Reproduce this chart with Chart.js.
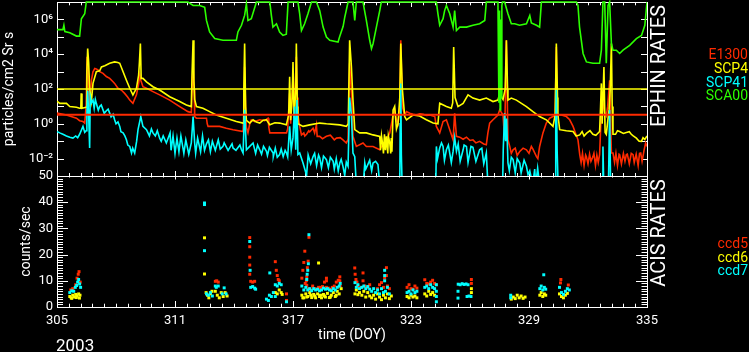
<!DOCTYPE html>
<html><head><meta charset="utf-8">
<script src="https://cdn.jsdelivr.net/npm/chart.js@4.4.1/dist/chart.umd.min.js"></script>
<style>
html,body{margin:0;padding:0;background:#000;}
#wrap{position:relative;width:749px;height:352px;overflow:hidden;background:#000;}
#wrap canvas{position:absolute;left:0;top:0;}
.lbl{position:absolute;font-family:Roboto,"DejaVu Sans",sans-serif;white-space:nowrap;font-size:14px;line-height:14px;}
.rot{position:absolute;font-family:Roboto,"DejaVu Sans",sans-serif;white-space:nowrap;color:#fff;font-size:20px;line-height:20px;transform:translate(-50%,-50%) rotate(-90deg);}
</style></head><body>
<div id="wrap">
<canvas id="topc" width="749" height="352"></canvas>
<canvas id="botc" width="749" height="352"></canvas>
<div class="rot" style="left:657.5px;top:65.5px">EPHIN RATES</div>
<div class="rot" style="left:657.5px;top:233px">ACIS RATES</div>
<div class="lbl" style="right:1px;top:46.5px;color:#ff2a00">E1300</div>
<div class="lbl" style="right:1px;top:60.5px;color:#ffff00">SCP4</div>
<div class="lbl" style="right:1px;top:74.9px;color:#00ffff">SCP41</div>
<div class="lbl" style="right:1px;top:88.2px;color:#2cff00">SCA00</div>
<div class="lbl" style="right:1px;top:235.5px;color:#ff2a00">ccd5</div>
<div class="lbl" style="right:1px;top:249.9px;color:#ffff00">ccd6</div>
<div class="lbl" style="right:1px;top:263.2px;color:#00ffff">ccd7</div>
<div class="lbl" style="left:56px;top:336.7px;font-size:17px;line-height:17px;color:#fff">2003</div>
</div>
<script>
// ---------- axis / tick values ----------
const DOY_MIN = 305, DOY_MAX = 335;
const xTickLabels = [305, 311, 317, 323, 329, 335];
const logLabelExps = [-2, 0, 2, 4, 6];
const countTickLabels = [0, 10, 20, 30, 40, 50];
const SCP4_LIMIT = 100;
const E1300_LIMIT = 3.3;

// ---------- EPHIN rates (DOY, particles/cm2 Sr s) ----------
const sca00 = [[305.00,2.6e5],[305.30,2.6e5],[305.35,4.6e5],[305.40,2.0e5],[305.65,1.7e5],[305.99,1.1e5],[306.15,1.1e5],[306.24,1.1e6],[306.41,2.1e6],[306.49,1e7],
[311.66,1e7],[311.92,6.3e6],[312.26,6.3e6],[312.51,5.0e6],[312.60,8.7e5],[312.76,1.9e5],[313.02,7.9e4],[313.44,6.3e4],[314.12,6.3e4],[314.20,1.9e5],[314.38,4.6e5],[314.54,1.7e6],[314.63,7.9e6],[314.71,8.7e5],[314.88,1.1e6],[315.14,1e7],
[315.82,1e7],[315.90,1.7e6],[315.98,3.6e5],[316.16,5.6e5],[316.32,1.9e5],[316.49,1.2e5],[316.66,1.4e5],[316.75,1e7],[317.25,1e7],[317.34,2.1e6],[317.43,2.3e5],[317.59,5.6e5],[317.76,2.1e6],[317.94,1e7],
[318.19,1e7],[318.36,3.2e6],[318.53,3.6e5],[318.70,9.8e4],[318.87,6.3e4],[319.29,5.0e4],[319.37,1e5],[319.55,4e5],[319.63,1.3e6],[319.80,1e7],
[320.05,1e7],[320.14,8.7e5],[320.22,1e7],[320.56,1e7],[320.73,8.7e5],[320.90,6.3e4],[320.99,2.1e4],[321.07,4e4],[321.24,3.6e5],[321.41,3.2e6],[321.49,1e7],
[324.29,1e7],[324.37,2.1e6],[324.46,4.6e5],[324.63,1.1e6],[324.71,3.2e6],[324.80,6.3e6],[324.97,2.1e6],[325.14,3.6e5],[325.22,3.2e6],[325.31,2.3e5],[325.48,3.6e5],[325.82,3.6e5],[326.15,4.6e5],[326.49,5.6e5],[326.75,8.7e5],[326.83,1e7],
[327.42,1e7],[327.47,16],[327.50,3.2e6],[327.53,6.3],[327.56,1e6],[327.59,32],[327.62,6.3e6],[327.65,1e7],[327.76,1e7],[327.93,2.1e6],[328.10,5.6e5],[328.27,5.6e5],[328.52,4.6e5],[328.87,5.6e5],[329.04,1.7e6],[329.12,6.3e5],[329.38,4.6e5],[329.54,3.6e5],[329.63,1e7],
[331.41,1e7],[331.49,6.3e6],[331.57,3.6e5],[331.75,1.1e4],[331.92,3.6e3],[332.25,3.0e3],[332.59,3.0e3],[332.68,1.7e4],[332.76,1e7],[332.85,1e7],[332.93,3.0e3],[333.02,6.3e6],[333.10,1e7],[333.19,4.1e4],[333.27,1.7e4],[333.44,1.7e4],[333.61,1.1e4],[333.78,1.7e4],[334.12,3.2e4],[334.46,7.9e4],[334.72,1.2e5],[334.89,4.6e5],[335.00,1e7]];

const e1300 = [[305.00,4.1],[305.48,3.2],[305.99,2.1],[306.15,1.5],[306.32,1.35],[306.41,1.1],[306.48,10],[306.53,7100],[306.58,3200],[306.63,16],[306.66,9.8],[306.75,320],[306.83,980],[306.92,1500],[307.00,1400],[307.08,1260],[307.17,1000],[307.34,790],[307.51,520],[307.68,410],[307.85,260],[307.93,210],[308.10,110],[308.27,87],[308.44,56],[308.59,35],[308.70,23],[308.86,15],[309.04,46],[309.15,200],[309.21,630],[309.26,320],[309.37,135],[309.55,110],[309.88,71],[310.22,46],[310.73,23],[311.24,9.8],[311.66,5.0],[311.83,4.5],[311.87,100],[311.92,3000],[311.97,100],[312.00,2.6],[312.09,2.1],[312.60,2.1],[312.64,1.0],[312.68,0.71],[313.27,0.71],[313.61,0.56],[313.95,0.46],[314.46,0.36],[314.51,10],[314.54,1900],[314.60,3.2],[314.63,0.63],[314.71,0.30],[314.80,1.0],[314.88,1.7],[315.05,1.35],[315.31,1.7],[315.56,1.5],[315.73,2.1],[315.77,0.63],[315.82,0.30],[316.16,0.30],[316.67,0.30],[316.73,0.5],[316.83,56],[316.88,1.0],[317.00,500],[317.06,3.2],[317.17,7100],[317.22,32],[317.25,3.2],[317.34,0.71],[317.43,0.23],[317.55,0.3],[317.60,0.2],[317.69,0.25],[317.80,0.4],[317.85,0.35],[318.02,0.56],[318.10,0.3],[318.19,0.87],[318.23,0.19],[318.36,0.19],[318.50,0.14],[318.70,0.19],[318.90,0.22],[319.10,0.12],[319.21,0.15],[319.40,0.16],[319.54,0.12],[319.71,0.079],[319.80,0.126],[319.88,3000],[319.97,56],[320.05,0.19],[320.22,0.050],[320.56,0.079],[320.73,0.050],[321.07,0.050],[321.41,0.032],[321.56,0.063],[321.75,0.12],[321.92,0.30],[322.09,3.2],[322.17,6.3],[322.26,1.6],[322.34,1.0],[322.43,10],[322.48,63000],[322.56,10],[322.68,3.2],[322.77,5.0],[322.94,4.1],[323.10,3.5],[323.28,3.2],[323.45,3.8],[323.61,3.5],[323.80,3.0],[323.95,3.2],[324.21,2.6],[324.29,0.71],[324.46,0.30],[324.63,1.35],[324.80,1.7],[324.97,0.46],[325.14,0.12],[325.22,4.0],[325.31,0.19],[325.48,0.17],[325.65,0.13],[325.82,0.17],[326.00,0.11],[326.15,0.12],[326.30,0.08],[326.49,0.098],[326.70,0.07],[326.83,0.063],[326.91,0.30],[327.00,1.1],[327.17,1.7],[327.42,3.2],[327.51,6.3],[327.68,3.2],[327.76,0.12],[327.85,63000],[327.93,0.12],[328.02,0.050],[328.10,0.02],[328.19,0.032],[328.30,0.04],[328.40,0.015],[328.53,0.026],[328.70,0.04],[328.87,0.032],[329.00,0.02],[329.12,0.050],[329.20,0.035],[329.38,0.013],[329.45,0.01],[329.54,0.050],[329.71,0.30],[329.88,1.1],[330.05,2.1],[330.22,2.6],[330.33,3.2],[330.39,26000],[330.43,4.0],[330.47,3.2],[330.65,3.2],[330.90,2.6],[331.07,1.7],[331.24,0.71],[331.49,0.12],[331.58,0.017],[331.65,0.006],[331.72,0.02],[331.80,0.004],[331.88,0.016],[331.92,0.0126],[332.00,0.005],[332.08,0.018],[332.15,0.007],[332.25,0.013],[332.30,0.02],[332.38,0.004],[332.45,0.016],[332.52,0.006],[332.59,0.017],[332.68,6.3],[332.76,15],[332.85,4.0],[332.93,2.8],[333.00,10],[333.10,320],[333.19,0.021],[333.27,0.021],[333.35,0.006],[333.42,0.02],[333.50,0.004],[333.58,0.018],[333.61,0.017],[333.70,0.005],[333.80,0.02],[333.88,0.007],[333.95,0.017],[334.00,0.018],[334.10,0.005],[334.20,0.02],[334.29,0.017],[334.35,0.006],[334.45,0.018],[334.55,0.004],[334.62,0.02],[334.68,0.021],[334.75,0.007],[334.85,0.03],[334.93,0.079],[335.00,0.05]];

const scp4 = [[305.00,20],[305.14,15],[305.48,15],[305.65,9.8],[305.99,8.9],[306.15,7.9],[306.21,7.9],[306.23,56],[306.27,7.9],[306.48,8.9],[306.52,1000],[306.56,21000],[306.61,3200],[306.66,100],[306.75,20],[306.83,210],[307.00,980],[307.17,1100],[307.26,1860],[307.43,2200],[307.68,3000],[307.93,3600],[308.09,3300],[308.19,3000],[308.36,980],[308.53,320],[308.70,110],[308.86,46],[309.04,110],[309.15,630],[309.19,3200],[309.24,41000],[309.28,410],[309.37,410],[309.55,260],[309.88,135],[310.22,87],[310.73,36],[311.24,19],[311.58,12],[311.83,9.8],[311.87,1000],[311.92,63000],[311.96,320],[312.00,25],[312.09,9.8],[312.42,7.9],[312.76,5.0],[313.10,3.2],[313.61,2.1],[314.12,1.35],[314.46,1.1],[314.50,100],[314.54,41000],[314.59,10],[314.63,1.6],[314.80,1.1],[314.97,1.7],[315.14,1.26],[315.31,1.1],[315.48,1.6],[315.65,1.7],[315.82,0.87],[316.08,1.15],[316.32,1.1],[316.66,0.87],[316.78,3.2],[316.83,500],[316.88,1.6],[316.96,32],[317.00,3600],[317.06,2.0],[317.14,100],[317.17,41000],[317.22,10],[317.25,1.0],[317.51,0.71],[317.85,0.87],[318.36,1.1],[318.70,1.0],[319.38,0.87],[319.71,0.71],[319.81,1.0],[319.88,63000],[319.97,1860],[320.05,23],[320.14,0.46],[320.39,0.30],[320.73,0.30],[321.07,0.23],[321.41,0.19],[321.45,0.03],[321.50,0.2],[321.56,0.063],[321.60,0.02],[321.65,0.25],[321.70,0.03],[321.75,0.19],[321.82,0.02],[321.85,0.2],[321.92,0.079],[321.97,0.02],[322.00,0.15],[322.03,0.025],[322.09,6.3],[322.17,10],[322.26,0.5],[322.34,1.0],[322.43,32],[322.48,41000],[322.56,100],[322.68,2.6],[322.77,1.7],[323.10,3.2],[323.44,2.8],[323.78,1.7],[324.12,1.1],[324.37,1.0],[324.46,15],[324.80,9.8],[325.05,7.9],[325.12,16],[325.17,26000],[325.24,32],[325.39,9.8],[325.65,15],[325.90,46],[326.15,30],[326.49,23],[326.83,30],[327.17,19],[327.42,23],[327.51,56],[327.68,25],[327.79,100],[327.85,63000],[327.91,100],[327.93,23],[328.10,30],[328.36,23],[328.87,9.8],[329.20,5.0],[329.54,2.6],[329.88,1.7],[330.22,0.71],[330.33,3.2],[330.39,41000],[330.45,32],[330.47,3.2],[330.56,0.46],[330.90,0.4],[331.24,0.36],[331.40,0.2],[331.58,0.23],[331.70,0.36],[331.80,0.2],[331.92,0.28],[332.10,0.4],[332.25,0.25],[332.40,0.22],[332.59,0.36],[332.64,10],[332.68,210],[332.72,1.0],[332.81,1860],[332.87,0.32],[332.93,0.25],[333.07,6.3],[333.13,100],[333.19,41000],[333.23,10],[333.27,0.25],[333.40,0.25],[333.50,0.4],[333.61,0.36],[333.80,0.28],[333.95,0.32],[334.10,0.35],[334.20,0.25],[334.30,0.2],[334.46,0.15],[334.60,0.1],[334.72,0.098],[334.80,0.16],[334.89,0.126],[335.00,0.2]];

const scp41 = [[305.00,0.36],[305.14,0.30],[305.30,0.25],[305.48,0.20],[305.65,0.17],[305.81,0.15],[305.95,0.2],[306.05,0.16],[306.15,0.25],[306.32,0.71],[306.41,0.32],[306.48,0.4],[306.52,3.2],[306.56,80],[306.61,3.2],[306.66,0.041],[306.69,36],[306.75,16],[306.83,23],[306.89,7.9],[306.95,25],[307.00,15],[307.07,7.9],[307.10,6],[307.17,9.8],[307.25,12],[307.34,6.3],[307.40,4],[307.51,5.6],[307.60,7],[307.68,4.1],[307.75,2.5],[307.85,3.5],[307.93,1.7],[308.00,1.0],[308.10,1.3],[308.19,0.71],[308.25,0.35],[308.36,0.30],[308.45,0.2],[308.53,0.12],[308.60,0.06],[308.70,0.050],[308.79,0.021],[308.85,0.04],[308.95,0.021],[309.05,0.1],[309.12,0.46],[309.26,2.6],[309.37,0.71],[309.55,0.46],[309.70,0.2],[309.80,0.5],[309.88,0.30],[310.00,0.2],[310.10,0.4],[310.22,0.15],[310.30,0.1],[310.40,0.2],[310.56,0.079],[310.75,0.3],[310.80,0.03],[310.90,0.2],[311.00,0.02],[311.10,0.15],[311.20,0.025],[311.30,0.2],[311.45,0.02],[311.55,0.12],[311.70,0.018],[311.83,0.079],[311.92,2.6],[312.00,0.079],[312.05,0.02],[312.15,0.15],[312.30,0.025],[312.40,0.2],[312.50,0.03],[312.60,0.071],[312.70,0.12],[312.80,0.025],[312.90,0.1],[313.05,0.03],[313.20,0.12],[313.30,0.035],[313.44,0.050],[313.50,0.08],[313.70,0.03],[313.90,0.07],[313.95,0.041],[314.10,0.03],[314.30,0.06],[314.38,0.032],[314.46,0.021],[314.54,6.3],[314.63,0.032],[314.80,0.050],[314.97,0.079],[315.10,0.02],[315.20,0.06],[315.31,0.032],[315.40,0.018],[315.50,0.05],[315.65,0.026],[315.70,0.015],[315.80,0.045],[315.99,0.021],[316.00,0.013],[316.10,0.04],[316.20,0.012],[316.32,0.017],[316.40,0.035],[316.50,0.013],[316.60,0.03],[316.67,0.021],[316.73,0.0126],[316.83,0.71],[316.91,0.032],[317.00,0.16],[317.08,9.8],[317.14,0.032],[317.20,23],[317.25,0.017],[317.34,0.021],[317.51,0.0056],[317.69,0.0011],[317.77,0.016],[317.90,0.005],[318.02,0.013],[318.10,0.02],[318.20,0.004],[318.30,0.016],[318.36,0.011],[318.45,0.003],[318.55,0.014],[318.70,0.0087],[318.80,0.003],[318.90,0.012],[319.04,0.0071],[319.10,0.0025],[319.20,0.01],[319.30,0.002],[319.38,0.0056],[319.45,0.009],[319.54,0.0036],[319.63,0.0011],[319.71,0.0063],[319.80,0.0036],[319.88,32],[319.97,3.2],[320.05,0.021],[320.14,0.013],[320.22,0.0003],[320.57,0.0003],[320.65,0.0056],[320.70,0.0025],[320.82,0.005],[320.90,0.008],[321.00,0.002],[321.07,0.0056],[321.20,0.007],[321.32,0.0046],[321.41,0.0003],[322.43,0.0003],[322.45,1.0],[322.48,210],[322.51,0.016],[322.55,0.0003],[324.26,0.0003],[324.29,0.050],[324.35,0.01],[324.46,0.041],[324.55,0.08],[324.63,0.050],[324.70,0.008],[324.80,0.032],[324.90,0.06],[325.05,0.006],[325.14,0.026],[325.22,0.16],[325.31,0.026],[325.40,0.07],[325.50,0.007],[325.65,0.032],[325.70,0.06],[325.82,0.050],[325.90,0.006],[326.05,0.05],[326.15,0.045],[326.30,0.007],[326.49,0.032],[326.60,0.04],[326.70,0.005],[326.83,0.021],[326.91,0.0003],[327.66,0.0003],[327.69,0.032],[327.76,4.1],[327.81,0.1],[327.86,2.0],[327.93,0.0056],[328.00,0.002],[328.10,0.012],[328.19,0.0087],[328.30,0.0015],[328.40,0.01],[328.53,0.0056],[328.60,0.0015],[328.75,0.008],[328.87,0.0036],[328.95,0.0012],[329.04,0.002],[329.19,0.0003],[329.29,0.0025],[329.34,0.0003],[329.44,0.0028],[329.54,0.0003],[330.33,0.0003],[330.36,1.0],[330.39,87],[330.43,0.032],[330.48,0.0003],[332.72,0.0003],[332.76,0.05],[332.80,0.0003],[333.04,0.0003],[333.10,6.3],[333.15,0.0003],[335.00,0.0003]];

// ---------- ACIS rates (DOY, counts/sec) ----------
const ccd5 = [[305.70,6.5],[305.80,7],[305.95,8.5],[306.02,11],[306.08,12.5],[306.12,13.5],[306.18,9.5],
[313.05,9.8],[313.12,10],[313.20,9.5],
[314.80,26.5],[314.80,23],[314.80,19],[314.80,16],[314.80,12.5],[314.85,9.8],[314.95,9.5],[315.05,9.8],
[316.10,17.3],[316.15,14],[316.20,12],[316.25,10.5],[316.30,10],[316.67,2.5],[316.67,5],
[317.45,11],[317.50,14],[317.55,17],[317.60,21.3],[317.62,9],[317.68,10],[317.70,11.5],[317.73,15],[317.77,17.5],[317.81,26.6],[317.70,8.3],[317.80,7],[317.90,6.5],[318.00,8],[318.10,7],[318.20,6.8],[318.30,7.5],[318.40,7.5],[318.50,7.8],[318.60,9.5],[318.70,11],[318.70,10],[318.70,7.5],[318.80,7.2],[318.90,6.8],[319.00,7.5],[319.10,8],[319.20,9.5],[319.30,10.2],[319.38,11.5],[319.38,10],[319.40,8],
[320.14,14.9],[320.16,12.5],[320.20,10.5],[320.25,9.5],[320.30,8],[320.45,7.5],[320.56,13],[320.56,10],[320.65,8],[320.80,7.5],[320.90,8.5],
[321.30,7],[321.40,8.5],[321.50,9.3],[321.60,7.5],[321.66,11],[321.75,15],[321.75,12],[321.80,8],[321.90,7],
[322.80,7.5],[322.90,8.5],[323.00,7],[323.10,6.8],[323.20,8],[323.30,7.2],
[323.70,10.4],[323.80,9],[323.90,8.8],[324.00,9.5],[324.10,10.2],[324.20,9],[324.28,8.5],
[326.07,9],[326.07,10.5],[330.60,9.2],[330.62,10.5],[331.00,8.4]];

const ccd6 = [[305.65,4],[305.72,3.5],[305.80,4.5],[305.88,3.8],[305.95,4.8],[306.02,4.2],[306.10,5],[306.17,4.5],[305.75,3.3],[305.98,3.6],[306.14,3.4],
[312.50,26.4],[312.50,12.6],[312.58,5.5],[312.65,4.5],[312.72,3.5],[312.80,5],[312.88,6],
[313.05,6],[313.15,4.5],[313.25,3.5],[313.35,5.5],[313.45,4],[313.55,5.5],[313.65,4.2],
[316.10,5.5],[316.20,5],[316.30,6.5],[316.40,5.5],[316.45,4.8],
[317.45,4.5],[317.55,3.5],[317.65,5],[317.75,4],[317.85,5.5],[317.95,3.6],[318.05,4.8],[318.15,3.5],[318.25,5],[318.30,16.8],[318.35,4],[318.45,3.5],[318.55,4.8],[318.65,3.8],[318.75,5.2],[318.85,3.6],[318.95,4.5],[319.05,5.5],[319.15,4],[319.25,6],[319.35,5],[319.45,7],
[317.50,3.5],[317.70,3.8],[317.90,4.5],[318.10,4.2],[318.40,4.5],[318.60,4.2],[318.90,3.8],[319.20,4.5],
[320.15,5],[320.22,6.5],[320.30,4.7],[320.38,5.5],[320.50,4.5],[320.60,6],[320.70,3.8],[320.80,5.5],[320.90,4.2],[321.00,3.5],[321.10,4.5],[321.20,3],[321.30,5],[321.40,3.8],[321.50,2.8],[321.60,4.5],[321.70,3.5],[321.80,5],[321.90,3.2],[322.00,4.2],
[322.80,4],[322.90,3.5],[323.00,4.5],[323.10,3.8],[323.20,4.2],[323.30,3.5],
[323.70,5],[323.80,4.2],[323.90,6],[324.00,4.8],[324.10,5.5],[324.20,4.5],
[326.07,7],[326.07,5.5],
[328.10,3],[328.20,3.8],[328.30,3.2],[328.40,4.5],[328.50,3.5],[328.60,4.2],[328.70,3.3],[328.80,3.8],
[329.55,4.5],[329.62,5.5],[329.70,4],[329.78,5],[329.85,4.5],
[330.55,5],[330.65,4],[330.75,3.5],[330.85,4.5],[330.95,5.2]];

const ccd7 = [[305.65,5.5],[305.75,6.2],[305.85,6],[305.93,7.5],[306.00,8.2],[306.05,9.5],[306.10,10.5],[306.15,8.8],[306.20,7.5],
[312.50,39.7],[312.50,39.1],[312.50,21.5],[312.60,5],[312.70,4.5],[312.80,5.5],[312.90,4.2],
[313.05,8],[313.10,7.5],[313.20,8],[313.40,5],[313.50,7.3],[313.60,5],
[314.80,25],[314.82,14],[314.85,7.5],[314.95,7.8],[315.05,7.2],[315.10,6.8],
[315.65,3],[315.75,2.5],[315.80,4.5],[315.82,13],[315.90,4],[316.00,5.5],[316.10,4],
[316.10,8.5],[316.20,8],[316.30,9],[316.40,8.5],[316.67,2],
[317.45,8],[317.55,6.5],[317.65,7.5],[317.70,10.5],[317.72,12.5],[317.75,14],[317.78,16.5],[317.81,27.6],[317.75,6.5],[317.85,7],[317.95,6.2],[318.05,7],[318.15,6.5],[318.25,6.8],[318.35,6.2],[318.45,6.5],[318.55,7.2],[318.65,6.8],[318.75,7],[318.85,6.5],[318.95,6.2],[319.05,7],[319.15,6.5],[319.25,7.5],[319.35,8],[319.40,9],
[320.15,9.3],[320.22,7.5],[320.30,8.5],[320.38,7],[320.50,7.5],[320.60,8],[320.70,7],[320.80,7.8],[320.90,6.8],[321.00,6],[321.10,7],[321.20,5.5],[321.30,6.5],[321.40,5],[321.50,7],[321.60,5.5],[321.66,10],[321.66,12],[321.66,14],[321.70,6],[321.80,7.5],[321.90,5],
[322.80,5.5],[322.90,6],[323.00,5],[323.10,6.5],[323.20,5.5],[323.30,6],
[323.70,7.5],[323.80,8],[323.90,7],[324.00,8.5],[324.10,7.5],[324.20,7],[324.29,8.5],[324.29,6],[324.29,4],[324.29,2],
[325.39,6],[325.39,3.4],[325.40,8.7],[325.50,8.5],[325.60,8.9],[325.70,8.6],[325.80,8.8],[325.90,8.5],
[325.85,4],[325.95,4.2],[326.05,4],[328.07,3.5],[328.07,4.5],
[329.55,7],[329.62,8],[329.70,6.5],[329.75,12.3],[329.78,7.5],[329.85,6.8],
[330.55,7.5],[330.65,5.5],[330.75,4.8],[330.85,6],[330.95,7],[331.05,6.5]];

// ---------- styling ----------
const RED = '#ff2a00', YEL = '#ffff00', CYN = '#00ffff', GRN = '#2cff00', WHITE = '#ffffff';
const FONT = 'Roboto, "DejaVu Sans", sans-serif';
const SUP = {'-':'\u207B','0':'\u2070','1':'\u00B9','2':'\u00B2','3':'\u00B3','4':'\u2074','5':'\u2075','6':'\u2076','7':'\u2077','8':'\u2078','9':'\u2079'};
const sup = n => String(n).split('').map(c => SUP[c]).join('');
const pts = arr => arr.map(p => ({x: p[0], y: p[1]})).sort((a, b) => a.x - b.x);
const flat = arr => arr.map(p => ({x: p[0], y: p[1]}));

const inwardTicks = {
  id: 'inwardTicks',
  beforeDatasetsDraw(chart, args, o) {
    const {ctx, chartArea: a} = chart;
    const xs = chart.scales.x, ys = chart.scales.y;
    ctx.save();
    ctx.strokeStyle = WHITE; ctx.lineWidth = 1;
    ctx.beginPath();
    const n = Math.round((DOY_MAX - DOY_MIN) / 0.6);
    for (let i = 0; i <= n; i++) {
      const v = DOY_MIN + i * 0.6;
      const px = Math.round(xs.getPixelForValue(v)) + 0.5;
      const major = i % 10 === 0;
      ctx.moveTo(px, a.top); ctx.lineTo(px, a.top + (major ? o.xMajTop : o.xMinTop));
      ctx.moveTo(px, a.bottom); ctx.lineTo(px, a.bottom - (major ? o.xMajBot : o.xMinBot));
    }
    for (const t of o.yTicks) {
      const py = Math.round(ys.getPixelForValue(t.v)) + 0.5;
      ctx.moveTo(a.left, py); ctx.lineTo(a.left + t.l, py);
      ctx.moveTo(a.right, py); ctx.lineTo(a.right - t.r, py);
    }
    ctx.stroke(); ctx.restore();
  }
};

const fixSize = size => function (s) {
  if (s.isHorizontal()) s.height = size; else s.width = size;
  s.paddingTop = 0; s.paddingBottom = 0; s.paddingLeft = 0; s.paddingRight = 0;
};
const hiddenAxis = (pos, size, extra) => Object.assign({
  position: pos, ticks: {display: false}, grid: {display: false, drawTicks: false},
  border: {color: WHITE, width: 1}, afterFit: fixSize(size)
}, extra);

// ---------- top chart: EPHIN ----------
const logTicks = [];
for (let e = -2; e <= 6; e++) logTicks.push({v: Math.pow(10, e), l: 7, r: 6});
const lineDs = (label, data, color, order, width) => ({
  label, data, borderColor: color, backgroundColor: color, borderWidth: width || 1.6,
  pointRadius: 0, tension: 0, order, clip: {left: 0, right: 0, top: 2, bottom: 0}
});

new Chart(document.getElementById('topc'), {
  type: 'line',
  data: {datasets: [
    lineDs('SCP4 limit', [{x: DOY_MIN, y: SCP4_LIMIT}, {x: DOY_MAX, y: SCP4_LIMIT}], YEL, 0, 1.3),
    lineDs('E1300 limit', [{x: DOY_MIN, y: E1300_LIMIT}, {x: DOY_MAX, y: E1300_LIMIT}], RED, 0, 2),
    lineDs('SCA00', pts(sca00), GRN, 1),
    lineDs('SCP41', pts(scp41), CYN, 2),
    lineDs('SCP4', pts(scp4), YEL, 3),
    lineDs('E1300', pts(e1300), RED, 4)
  ]},
  options: {
    responsive: false, animation: false, events: [],
    layout: {padding: 0},
    plugins: {legend: {display: false}, tooltip: {enabled: false},
      inwardTicks: {xMajTop: 5, xMinTop: 3.3, xMajBot: 5, xMinBot: 3, yTicks: logTicks}},
    scales: {
      x: hiddenAxis('bottom', 176, {type: 'linear', min: DOY_MIN, max: DOY_MAX}),
      xTop: hiddenAxis('top', 2, {type: 'linear', min: DOY_MIN, max: DOY_MAX}),
      y: {
        type: 'logarithmic', position: 'left', min: 1e-3, max: 1e7,
        afterBuildTicks(s) { s.ticks = logLabelExps.map(e => ({value: Math.pow(10, e)})); },
        ticks: {color: WHITE, font: {family: FONT, size: 13}, padding: 4, autoSkip: false,
          callback: v => '10' + sup(Math.round(Math.log10(v)))},
        grid: {display: false, drawTicks: false},
        border: {color: WHITE, width: 1},
        title: {display: true, text: 'particles/cm2 Sr s', color: WHITE, font: {family: FONT, size: 14}, padding: {top: 1, bottom: 0}},
        afterFit: fixSize(57)
      },
      yR: hiddenAxis('right', 102, {type: 'logarithmic', min: 1e-3, max: 1e7})
    }
  },
  plugins: [inwardTicks]
});

// ---------- bottom chart: ACIS ----------
const countTicks = [];
for (let k = 1; k < 50; k++) countTicks.push({v: k, l: k % 10 === 0 ? 11 : 6, r: k % 10 === 0 ? 11 : 5.5});
const dotDs = (label, data, color, order) => ({
  label, data, showLine: false, pointStyle: 'rect', pointRadius: 2.1, pointBorderWidth: 0,
  pointBackgroundColor: color, borderColor: color, backgroundColor: color, order
});

new Chart(document.getElementById('botc'), {
  type: 'scatter',
  data: {datasets: [
    dotDs('ccd7', flat(ccd7), CYN, 1),
    dotDs('ccd6', flat(ccd6), YEL, 2),
    dotDs('ccd5', flat(ccd5), RED, 3)
  ]},
  options: {
    responsive: false, animation: false, events: [],
    layout: {padding: 0},
    plugins: {legend: {display: false}, tooltip: {enabled: false},
      inwardTicks: {xMajTop: 3.5, xMinTop: 1.5, xMajBot: 6, xMinBot: 3.3, yTicks: countTicks}},
    scales: {
      x: {
        type: 'linear', position: 'bottom', min: DOY_MIN, max: DOY_MAX,
        afterBuildTicks(s) { s.ticks = xTickLabels.map(v => ({value: v})); },
        ticks: {color: WHITE, font: {family: FONT, size: 13}, padding: 6, autoSkip: false, maxRotation: 0},
        grid: {display: false, drawTicks: false},
        border: {color: WHITE, width: 1},
        title: {display: true, text: 'time (DOY)', color: WHITE, font: {family: FONT, size: 14}, padding: {top: 0, bottom: 8.6}},
        afterFit: fixSize(45)
      },
      xTop: hiddenAxis('top', 176, {type: 'linear', min: DOY_MIN, max: DOY_MAX}),
      y: {
        type: 'linear', position: 'left', min: 0, max: 50,
        afterBuildTicks(s) { s.ticks = countTickLabels.map(v => ({value: v})); },
        ticks: {color: WHITE, font: {family: FONT, size: 13}, padding: 4, autoSkip: false},
        grid: {display: false, drawTicks: false},
        border: {color: WHITE, width: 1},
        title: {display: true, text: 'counts/sec', color: WHITE, font: {family: FONT, size: 14}, padding: {top: 18, bottom: 0}},
        afterFit: fixSize(57)
      },
      yR: hiddenAxis('right', 102, {type: 'linear', min: 0, max: 50})
    }
  },
  plugins: [inwardTicks]
});
</script>
</body></html>
